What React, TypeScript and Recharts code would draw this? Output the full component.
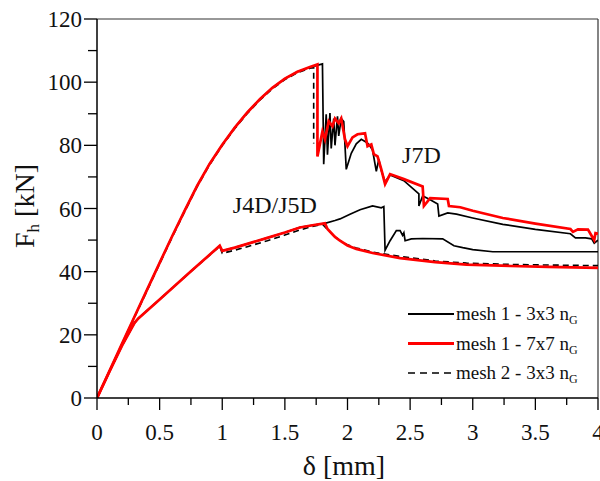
import React from 'react';
import { LineChart, Line, XAxis, YAxis, ReferenceLine, ReferenceDot } from 'recharts';

type P = [number, number];

const xTicks = [0, 0.25, 0.5, 0.75, 1, 1.25, 1.5, 1.75, 2, 2.25, 2.5, 2.75, 3, 3.25, 3.5, 3.75, 4];
const yTicks = [0, 10, 20, 30, 40, 50, 60, 70, 80, 90, 100, 110, 120];
const xMajorLabels: Record<string, string> = { '0': '0', '0.5': '0.5', '1': '1', '1.5': '1.5', '2': '2', '2.5': '2.5', '3': '3', '3.5': '3.5', '4': '4' };
const yMajorLabels: Record<string, string> = { '0': '0', '20': '20', '40': '40', '60': '60', '80': '80', '100': '100', '120': '120' };

const legendNames = ['mesh 1 - 3x3 n', 'mesh 1 - 7x7 n', 'mesh 2 - 3x3 n'];
const legendSub = 'G';
const xTitle = 'δ [mm]';
const yTitle = 'F';
const yTitleSub = 'h';
const yTitleUnit = ' [kN]';
const annotations: { text: string; x: number; y: number }[] = [
  { text: 'J7D', x: 2.59, y: 74.3 },
  { text: 'J4D/J5D', x: 1.42, y: 58.6 },
];

// mesh 1 - 3x3 nG, joint J7D
const mesh1_3x3_J7D: P[] = [
  [0, 0], [0.1, 8.6], [0.2, 17.2], [0.3, 25.8], [0.4, 34.3], [0.5, 42.8], [0.6, 51.2], [0.7, 59.3],
  [0.8, 67.2], [0.9, 74.2], [1.0, 80.2], [1.1, 85.6], [1.2, 90.4], [1.3, 94.6], [1.4, 98.2], [1.5, 101.1],
  [1.6, 103.3], [1.7, 104.7], [1.8, 105.8], [1.81, 74.0], [1.83, 89.8], [1.84, 77], [1.86, 90.2], [1.87, 79],
  [1.89, 88.5], [1.9, 80], [1.92, 89.2], [1.93, 83], [1.95, 88.5], [1.97, 87.5], [1.99, 72.4], [2.03, 77.5],
  [2.07, 80.5], [2.11, 81.9], [2.15, 81.0], [2.17, 80.3], [2.2, 78.5], [2.23, 71.8], [2.25, 75.5], [2.27, 72],
  [2.3, 68.5], [2.34, 70.6], [2.45, 68.8], [2.57, 64.6], [2.57, 60.8], [2.6, 64.0], [2.65, 63.0], [2.72, 61.4],
  [2.73, 57.6], [2.8, 58.6], [2.87, 58.2], [3.0, 57.0], [3.24, 55.0], [3.5, 53.4], [3.78, 52.0], [3.82, 50.7],
  [3.9, 50.7], [3.95, 50.4], [3.97, 49.0], [4.0, 50.0],
];

// mesh 1 - 3x3 nG, joints J4D/J5D
const mesh1_3x3_J4D: P[] = [
  [0, 0], [0.1, 8.4], [0.2, 16.6], [0.3, 23.8], [0.33, 25.2], [0.5, 31.2], [0.75, 40.1], [0.98, 48.2],
  [1.0, 46.6], [1.1, 47.6], [1.2, 48.8], [1.36, 50.7], [1.5, 52.4], [1.62, 54.0], [1.72, 54.7], [1.82, 55.3],
  [1.9, 56.2], [1.94, 56.7], [2.02, 58.2], [2.1, 59.6], [2.2, 60.8], [2.27, 60.2], [2.29, 60.6], [2.3, 46.8],
  [2.34, 49.8], [2.39, 53.0], [2.42, 53.0], [2.44, 51.5], [2.45, 52.3], [2.46, 49.8], [2.51, 50.4], [2.6, 50.5],
  [2.76, 50.4], [2.85, 48.2], [2.92, 47.6], [3.0, 47.0], [3.16, 46.3], [4.0, 46.3],
];

// mesh 1 - 7x7 nG, joint J7D
const mesh1_7x7_J7D: P[] = [
  [0, 0], [0.1, 8.6], [0.2, 17.2], [0.3, 25.8], [0.4, 34.3], [0.5, 42.8], [0.6, 51.2], [0.7, 59.3],
  [0.8, 67.2], [0.9, 74.2], [1.0, 80.2], [1.1, 85.6], [1.2, 90.4], [1.3, 94.6], [1.4, 98.2], [1.5, 101.1],
  [1.6, 103.3], [1.7, 104.8], [1.76, 105.6], [1.76, 76.5], [1.8, 84.4], [1.82, 81.9], [1.85, 87.6], [1.88, 86.0],
  [1.9, 88.5], [1.93, 87.0], [1.95, 88.5], [1.98, 81.9], [2.0, 79.7], [2.04, 82.5], [2.08, 83.5], [2.14, 83.8],
  [2.16, 79.7], [2.19, 80.3], [2.21, 77.2], [2.24, 76.5], [2.27, 72.4], [2.3, 67.7], [2.34, 70.9], [2.45, 69.3],
  [2.6, 67.0], [2.61, 60.8], [2.66, 63.3], [2.8, 63.0], [2.81, 60.8], [2.9, 60.4], [3.0, 59.3], [3.24, 57.0],
  [3.5, 55.2], [3.78, 53.5], [3.8, 52.6], [3.84, 53.4], [3.92, 53.3], [3.95, 51.3], [3.97, 50.0], [3.98, 52.2],
  [4.0, 52.0],
];

// mesh 1 - 7x7 nG, joints J4D/J5D
const mesh1_7x7_J4D: P[] = [
  [0, 0], [0.1, 8.4], [0.2, 16.6], [0.3, 23.8], [0.33, 25.2], [0.5, 31.2], [0.75, 40.1], [0.98, 48.2],
  [1.0, 46.6], [1.1, 47.6], [1.2, 48.8], [1.36, 50.7], [1.5, 52.4], [1.62, 54.0], [1.72, 54.7], [1.82, 55.3],
  [1.84, 53.5], [1.9, 51.0], [1.94, 49.8], [2.0, 48.3], [2.07, 47.2], [2.2, 45.9], [2.42, 44.3], [2.7, 43.0],
  [2.95, 42.2], [3.3, 41.8], [3.6, 41.5], [4.0, 41.2],
];

// mesh 2 - 3x3 nG, joint J7D
const mesh2_3x3_J7D: P[] = [
  [0, 0], [0.1, 8.5], [0.2, 17.0], [0.3, 25.6], [0.4, 34.0], [0.5, 42.5], [0.6, 50.9], [0.7, 59.0],
  [0.8, 66.9], [0.9, 73.9], [1.0, 79.9], [1.1, 85.3], [1.2, 90.1], [1.3, 94.3], [1.4, 97.9], [1.5, 100.8],
  [1.6, 103.0], [1.7, 104.4], [1.73, 104.6], [1.73, 80.6],
];

// mesh 2 - 3x3 nG, joints J4D/J5D
const mesh2_3x3_J4D: P[] = [
  [0, 0], [0.1, 8.4], [0.2, 16.6], [0.3, 23.8], [0.33, 25.2], [0.5, 31.2], [0.75, 40.1], [0.98, 48.0],
  [1.0, 45.8], [1.1, 46.8], [1.2, 47.9], [1.36, 49.8], [1.5, 51.6], [1.62, 53.2], [1.72, 54.3], [1.8, 55.0],
  [1.84, 53.4], [1.9, 51.0], [1.94, 49.9], [2.0, 48.5], [2.07, 47.5], [2.2, 46.2], [2.42, 44.8], [2.7, 43.4],
  [2.95, 42.7], [3.3, 42.3], [3.6, 42.1], [4.0, 41.9],
];

const toRows = (arr: P[]) => arr.map(([x, y]) => ({ x, y }));

const FONT = '"Liberation Serif", "Times New Roman", serif';
const RED = '#ff0000';

const XTick = (props: any) => {
  const { x, y, payload } = props;
  const key = String(payload.value);
  const label = xMajorLabels[key];
  const major = label !== undefined;
  return (
    <g>
      <line x1={x} x2={x} y1={y} y2={y + (major ? 12 : 7)} stroke="#000" strokeWidth={1.3} />
      {major && (
        <text x={x} y={y + 42} textAnchor="middle" fontFamily={FONT} fontSize={23} fill="#111">
          {label}
        </text>
      )}
    </g>
  );
};

const YTick = (props: any) => {
  const { x, y, payload } = props;
  const key = String(payload.value);
  const label = yMajorLabels[key];
  const major = label !== undefined;
  return (
    <g>
      <line x1={x} x2={x - (major ? 13 : 9)} y1={y} y2={y} stroke="#000" strokeWidth={1.3} />
      {major && (
        <text x={x - 15} y={y + 8} textAnchor="end" fontFamily={FONT} fontSize={23} fill="#111">
          {label}
        </text>
      )}
    </g>
  );
};

const annoLabel = (text: string) => (p: any) => {
  const vb = p.viewBox || {};
  const cx = (vb.x ?? 0) + (vb.width ?? 0) / 2;
  const cy = (vb.y ?? 0) + (vb.height ?? 0) / 2;
  return (
    <text x={cx} y={cy} textAnchor="middle" fontFamily={FONT} fontSize={24} fill="#111">
      {text}
    </text>
  );
};

const legendStyles = [
  { stroke: '#000', width: 1.8, dash: undefined as string | undefined },
  { stroke: RED, width: 2.8, dash: undefined as string | undefined },
  { stroke: '#000', width: 1.6, dash: '7 5' },
];

export default function App() {
  return (
    <div style={{ position: 'absolute', left: 0, top: 0, width: 600, height: 481, background: '#fff' }}>
      <LineChart width={600} height={481} margin={{ top: 19, right: 2, left: 0, bottom: 0 }}>
        <XAxis
          type="number"
          dataKey="x"
          domain={[0, 4]}
          ticks={xTicks}
          interval={0}
          tickSize={0}
          tickMargin={0}
          tick={<XTick />}
          height={83}
          axisLine={{ stroke: '#000', strokeWidth: 1.5 }}
          allowDataOverflow
        />
        <YAxis
          type="number"
          domain={[0, 120]}
          ticks={yTicks}
          interval={0}
          tickSize={0}
          tickMargin={0}
          tick={<YTick />}
          width={97}
          axisLine={{ stroke: '#000', strokeWidth: 1.5 }}
          allowDataOverflow
        />
        <ReferenceLine y={120} stroke="#333" strokeWidth={1.2} />
        <ReferenceLine x={4} stroke="#333" strokeWidth={1.2} />
        <Line data={toRows(mesh1_3x3_J7D)} dataKey="y" type="linear" stroke="#000" strokeWidth={1.7} dot={false} isAnimationActive={false} />
        <Line data={toRows(mesh1_3x3_J4D)} dataKey="y" type="linear" stroke="#000" strokeWidth={1.7} dot={false} isAnimationActive={false} />
        <Line data={toRows(mesh2_3x3_J7D)} dataKey="y" type="linear" stroke="#000" strokeWidth={1.6} strokeDasharray="6 4" dot={false} isAnimationActive={false} />
        <Line data={toRows(mesh2_3x3_J4D)} dataKey="y" type="linear" stroke="#000" strokeWidth={1.6} strokeDasharray="6 4" dot={false} isAnimationActive={false} />
        <Line data={toRows(mesh1_7x7_J7D)} dataKey="y" type="linear" stroke={RED} strokeWidth={2.7} dot={false} isAnimationActive={false} />
        <Line data={toRows(mesh1_7x7_J4D)} dataKey="y" type="linear" stroke={RED} strokeWidth={2.7} dot={false} isAnimationActive={false} />
        {annotations.map((a) => (
          <ReferenceDot key={a.text} x={a.x} y={a.y} r={1} fill="none" stroke="none" label={{ content: annoLabel(a.text) } as any} />
        ))}
      </LineChart>
      <svg width={600} height={481} style={{ position: 'absolute', left: 0, top: 0, pointerEvents: 'none' }}>
        <text x={344} y={475} textAnchor="middle" fontFamily={FONT} fontSize={28} fill="#111">
          {xTitle}
        </text>
        <text transform="translate(34,206) rotate(-90)" textAnchor="middle" fontFamily={FONT} fontSize={28} fill="#111">
          {yTitle}
          <tspan fontSize={17} dy={5}>{yTitleSub}</tspan>
          <tspan dy={-5}>{yTitleUnit}</tspan>
        </text>
        {legendNames.map((name, i) => {
          const ly = 314 + i * 29.5;
          const s = legendStyles[i];
          return (
            <g key={name}>
              <line x1={408} x2={454} y1={ly} y2={ly} stroke={s.stroke} strokeWidth={s.width} strokeDasharray={s.dash} />
              <text x={456} y={ly + 6} fontFamily={FONT} fontSize={19} fill="#111">
                {name}
                <tspan fontSize={12} dy={4}>{legendSub}</tspan>
              </text>
            </g>
          );
        })}
      </svg>
    </div>
  );
}
